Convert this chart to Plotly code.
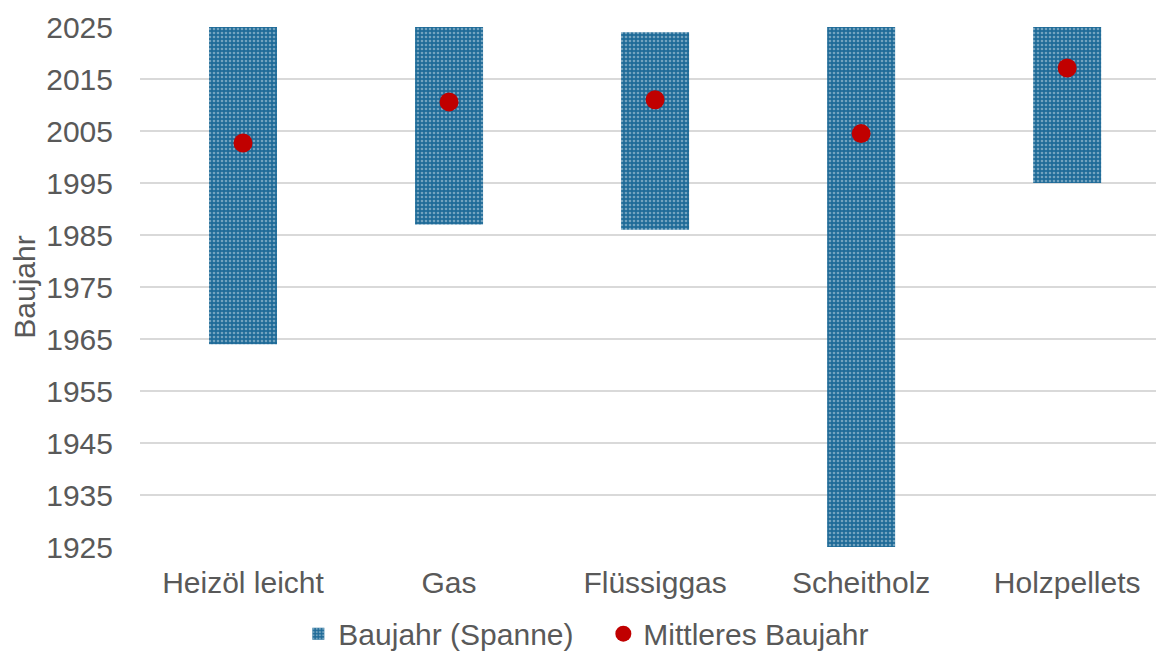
import plotly.graph_objects as go

categories = ["Heizöl leicht", "Gas", "Flüssiggas", "Scheitholz", "Holzpellets"]
year_min = [1964, 1987, 1986, 1925, 1995]
year_max = [2025, 2025, 2024, 2025, 2025]
year_mean = [2002.7, 2010.6, 2011.0, 2004.5, 2017.1]
tick_vals = [1925, 1935, 1945, 1955, 1965, 1975, 1985, 1995, 2005, 2015, 2025]

span = [mx - mn for mn, mx in zip(year_min, year_max)]

font_family = "Liberation Sans, Arial, sans-serif"
text_color = "#595959"
fs = 30

fig = go.Figure()
fig.add_trace(go.Bar(
    x=categories, y=span, base=year_min,
    name="Baujahr (Spanne)",
    width=0.33,
    marker=dict(
        color="#1F6B98",
        line=dict(width=0),
        pattern=dict(shape=".", fgcolor="rgba(255,255,255,0.75)", size=4, solidity=0.35),
    ),
))
fig.add_trace(go.Scatter(
    x=categories, y=year_mean, mode="markers",
    name="Mittleres Baujahr",
    marker=dict(color="#C00000", size=19, line=dict(width=0)),
))

fig.update_layout(
    width=1156, height=645,
    margin=dict(l=132, r=0, t=19, b=106),
    paper_bgcolor="white", plot_bgcolor="white",
    font=dict(family=font_family, size=fs, color=text_color),
    showlegend=True,
    legend=dict(
        orientation="h", xref="container", yref="container",
        x=0.515, xanchor="center", y=0.03, yanchor="middle",
        font=dict(size=30, color=text_color),
        itemsizing="trace", traceorder="normal",
        itemwidth=30, entrywidth=260, entrywidthmode="pixels",
    ),
    bargap=0.67,
)
fig.update_xaxes(
    range=[-0.5, 4.47], showgrid=False, showline=False, zeroline=False,
    ticks="", tickfont=dict(size=fs, color=text_color),
    ticklabelstandoff=15, automargin=False,
)
fig.update_yaxes(
    range=[1925, 2025], tickmode="array", tickvals=tick_vals,
    showgrid=True, gridcolor="#D9D9D9", gridwidth=1.5,
    zeroline=False, showline=False, ticks="",
    ticklabelstandoff=26, automargin=False,
    tickfont=dict(size=fs, color=text_color),
    title=dict(text="Baujahr", font=dict(size=fs, color=text_color), standoff=8),
)

fig.write_html("out.html")
